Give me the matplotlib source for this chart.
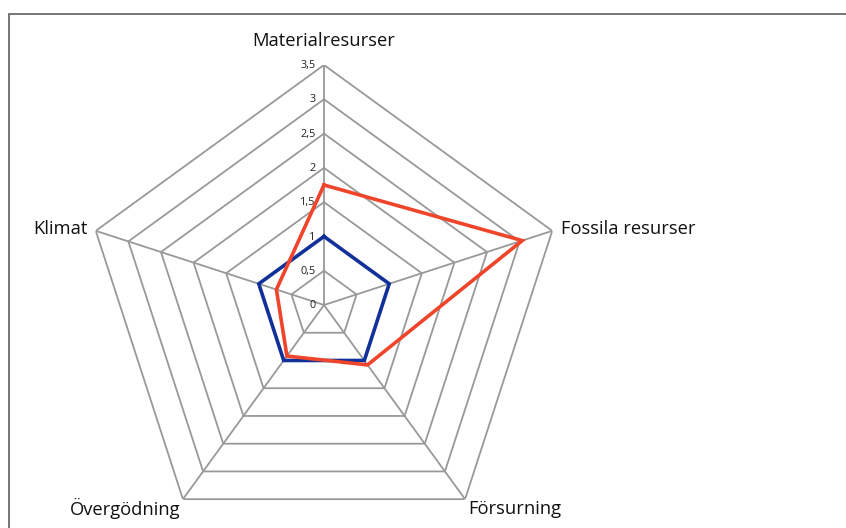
import numpy as np
import matplotlib
matplotlib.use("Agg")
import matplotlib.pyplot as plt
from matplotlib.patches import Rectangle

categories = ["Materialresurser", "Fossila resurser", "Försurning", "Övergödning", "Klimat"]
series_blue = [1.0, 1.0, 1.0, 1.0, 1.0]
series_red = [1.75, 3.04, 1.08, 0.92, 0.73]
ring_values = [0.5, 1.0, 1.5, 2.0, 2.5, 3.0, 3.5]
tick_values = [0, 0.5, 1, 1.5, 2, 2.5, 3, 3.5]
tick_labels = ["0", "0,5", "1", "1,5", "2", "2,5", "3", "3,5"]

W, H, DPI = 846, 528, 100
fig = plt.figure(figsize=(W / DPI, H / DPI), dpi=DPI)
fig.patch.set_facecolor("white")

# outer chart frame
fig.patches.append(Rectangle((9 / W, -0.1), 1.2, (H - 14) / H + 0.1,
                             transform=fig.transFigure, fill=False,
                             edgecolor="#6a6a6a", lw=1.3))

cx, cy, R = 324, 305, 240
ax = fig.add_axes([(cx - R) / W, (H - cy - R) / H, 2 * R / W, 2 * R / H],
                  projection="polar")
ax.set_theta_offset(np.pi / 2)
ax.set_theta_direction(-1)
ax.set_ylim(0, 3.5)
ax.set_xticks([])
ax.set_yticks([])
ax.grid(False)
ax.spines["polar"].set_visible(False)
ax.patch.set_alpha(0)

n = len(categories)
theta = np.linspace(0, 2 * np.pi, n, endpoint=False)
theta_closed = np.append(theta, theta[0])

grid_color = "#999999"
for r in ring_values:
    ax.plot(theta_closed, [r] * (n + 1), color=grid_color, lw=1.3, zorder=1)
for t in theta:
    ax.plot([t, t], [0, 3.5], color=grid_color, lw=1.3, zorder=1)

ax.plot(theta_closed, series_blue + series_blue[:1], color="#12309a", lw=2.6,
        zorder=3, solid_joinstyle="miter")
ax.plot(theta_closed, series_red + series_red[:1], color="#f0452a", lw=2.6,
        zorder=4, solid_joinstyle="miter")

font = "Open Sans"
for v, lab in zip(tick_values, tick_labels):
    ax.annotate(lab, xy=(0, v), xytext=(-6, -0.5), textcoords="offset points",
                ha="right", va="center", fontsize=7.8, family=font, color="#222222")

label_specs = [
    (0, 3.5, (0, 17), "center", "center"),
    (1, 3.5, (6, 1), "left", "center"),
    (2, 3.5, (2, -7), "left", "center"),
    (3, 3.5, (-2, -7), "right", "center"),
    (4, 3.5, (-6, 1), "right", "center"),
]
for i, r, off, ha, va in label_specs:
    ax.annotate(categories[i], xy=(theta[i], r), xytext=off,
                textcoords="offset points", ha=ha, va=va,
                fontsize=13.2, family=font, color="#111111",
                annotation_clip=False)

fig.savefig("out.png", dpi=DPI)
